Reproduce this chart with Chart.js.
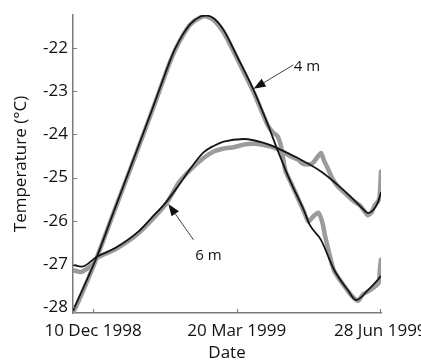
<!DOCTYPE html>
<html>
<head>
<meta charset="utf-8">
<script src="https://cdn.jsdelivr.net/npm/chart.js"></script>
<style>
  html, body { margin: 0; padding: 0; background: #fff; }
  #wrap { width: 421px; height: 363px; }
</style>
</head>
<body>
<div id="wrap"><canvas id="chart" width="421" height="363"></canvas></div>
<script>
// days counted from 10 Dec 1998
const xTickDays = [0, 100, 200];
const xTickLabels = ['10 Dec 1998', '20 Mar 1999', '28 Jun 1999'];
const yTicks = [-28, -27, -26, -25, -24, -23, -22];

// 4 m depth: smooth fit (black) and measured (grey)
const fit4Days  = [-14, 2.6, 14, 28, 41, 50.3, 53.8, 57.3, 63, 67.8, 74.8, 79, 83.9, 90.9, 100.4, 111.8, 121.4, 128.4, 137.8, 146.7, 151, 158.7, 167.8, 177.4, 183.2, 191.4, 198.4, 200.5];
const fit4Temps = [-28.08, -26.83, -25.82, -24.59, -23.44, -22.59, -22.28, -22.01, -21.67, -21.45, -21.28, -21.26, -21.32, -21.59, -22.21, -22.98, -23.75, -24.36, -25.12, -25.75, -26.1, -26.44, -27.13, -27.60, -27.83, -27.60, -27.36, -27.27];

const meas4Days  = [-14, -10, 2.6, 14, 28, 41, 50.3, 53.8, 57.3, 63, 67.8, 74.8, 79, 84, 91, 100.4, 111.8, 121.4, 125, 128.5, 131, 134, 137.8, 146.7, 150, 153.3, 156.8, 159.6, 161.7, 167.8, 177.4, 182, 184.5, 188, 192, 197, 199, 199.8, 200.5];
const meas4Temps = [-28.12, -27.85, -26.85, -25.84, -24.62, -23.47, -22.62, -22.31, -22.04, -21.69, -21.46, -21.30, -21.28, -21.36, -21.65, -22.26, -23.03, -23.78, -23.95, -24.05, -24.3, -24.85, -25.12, -25.78, -26.02, -25.90, -25.81, -26.03, -26.37, -27.15, -27.62, -27.80, -27.85, -27.70, -27.62, -27.50, -27.43, -27.10, -26.90];

// 6 m depth
const fit6Days  = [-14, -7.9, 2.6, 15.4, 31.5, 41.3, 50.3, 59.4, 67.8, 76.9, 83.9, 90.9, 104.9, 118.9, 130.8, 142.4, 158.7, 170.3, 181.8, 188.1, 191.4, 195.1, 198.4, 200.5];
const fit6Temps = [-27.02, -27.06, -26.83, -26.63, -26.25, -25.91, -25.59, -25.19, -24.79, -24.42, -24.27, -24.17, -24.11, -24.20, -24.36, -24.55, -24.86, -25.17, -25.52, -25.73, -25.82, -25.75, -25.57, -25.34];

const meas6Days  = [-14, -8, 0, 2.6, 15.4, 31.5, 50.3, 60, 67.8, 76.9, 84, 90.9, 98, 104.9, 112, 118.9, 125, 130.8, 137, 142.4, 146, 149.4, 152.9, 156.4, 158.7, 161, 163.3, 167, 170.3, 176, 181.8, 186, 189, 191.4, 194, 196, 198.4, 199.5, 200.5];
const meas6Temps = [-27.14, -27.18, -27.0, -26.86, -26.66, -26.29, -25.63, -25.1, -24.82, -24.55, -24.4, -24.33, -24.3, -24.24, -24.22, -24.25, -24.3, -24.38, -24.5, -24.58, -24.68, -24.70, -24.67, -24.52, -24.43, -24.62, -24.78, -25.05, -25.2, -25.38, -25.55, -25.65, -25.78, -25.87, -25.8, -25.65, -25.55, -25.45, -24.86];

// depth labels with arrows, in data units
const labels = [
  { text: '4 m', at: [139.8, -22.43], tail: [139.4, -22.40], tip: [111.8, -22.95] },
  { text: '6 m', at: [80.4, -26.80], tail: [69.9, -26.44], tip: [52.4, -25.61] }
];

function pts(xs, ys) { return xs.map((x, i) => ({ x: x, y: ys[i] })); }

const FONT = '"Open Sans", sans-serif';
const TEXT = '#111';
const AXIS = '#7a7a7a';

const innerTicks = {
  id: 'innerTicks',
  afterDraw(chart) {
    const ctx = chart.ctx, xs = chart.scales.x, ys = chart.scales.y;
    const a = chart.chartArea;
    ctx.save();
    ctx.strokeStyle = AXIS;
    ctx.lineWidth = 1;
    xTickDays.forEach(d => {
      const px = Math.round(xs.getPixelForValue(d)) + 0.5;
      ctx.beginPath(); ctx.moveTo(px, a.bottom); ctx.lineTo(px, a.bottom - 4); ctx.stroke();
    });
    yTicks.forEach(v => {
      const py = Math.round(ys.getPixelForValue(v)) + 0.5;
      ctx.beginPath(); ctx.moveTo(a.left, py); ctx.lineTo(a.left + 4, py); ctx.stroke();
    });
    // depth labels
    ctx.font = '15px ' + FONT;
    ctx.textBaseline = 'middle';
    labels.forEach(l => {
      const tx = xs.getPixelForValue(l.tail[0]), ty = ys.getPixelForValue(l.tail[1]);
      const hx = xs.getPixelForValue(l.tip[0]), hy = ys.getPixelForValue(l.tip[1]);
      const ang = Math.atan2(hy - ty, hx - tx);
      const len = 12, w = 4.5;
      const bx = hx - len * Math.cos(ang), by = hy - len * Math.sin(ang);
      ctx.strokeStyle = '#444';
      ctx.lineWidth = 1;
      ctx.beginPath(); ctx.moveTo(tx, ty); ctx.lineTo(bx, by); ctx.stroke();
      ctx.fillStyle = '#111';
      ctx.beginPath();
      ctx.moveTo(hx, hy);
      ctx.lineTo(bx + w * Math.sin(ang), by - w * Math.cos(ang));
      ctx.lineTo(bx - w * Math.sin(ang), by + w * Math.cos(ang));
      ctx.closePath(); ctx.fill();
      ctx.fillStyle = TEXT;
      ctx.textAlign = l.text === '4 m' ? 'left' : 'center';
      ctx.fillText(l.text, xs.getPixelForValue(l.at[0]), ys.getPixelForValue(l.at[1]));
    });
    ctx.restore();
  }
};

const fitStyle = { borderColor: '#151515', borderWidth: 1.8, pointRadius: 0, showLine: true, fill: false, cubicInterpolationMode: 'monotone' };
const measStyle = { borderColor: '#9b9b9b', borderWidth: 4.5, pointRadius: 0, showLine: true, fill: false, tension: 0.2, borderCapStyle: 'round', borderJoinStyle: 'round' };

new Chart(document.getElementById('chart').getContext('2d'), {
  type: 'scatter',
  data: {
    datasets: [
      Object.assign({ label: '4 m fit', data: pts(fit4Days, fit4Temps) }, fitStyle),
      Object.assign({ label: '6 m fit', data: pts(fit6Days, fit6Temps) }, fitStyle),
      Object.assign({ label: '4 m', data: pts(meas4Days, meas4Temps) }, measStyle),
      Object.assign({ label: '6 m', data: pts(meas6Days, meas6Temps) }, measStyle)
    ]
  },
  options: {
    responsive: false,
    animation: false,
    events: [],
    layout: { padding: { top: 15, right: 40, left: 0, bottom: 0 } },
    plugins: { legend: { display: false }, tooltip: { enabled: false } },
    scales: {
      x: {
        type: 'linear',
        min: -14,
        max: 200.5,
        afterBuildTicks: s => { s.ticks = xTickDays.map(v => ({ value: v })); },
        afterFit: s => { s.height = 50; s.paddingLeft = 0; s.paddingRight = 0; },
        grid: { display: false, drawTicks: false },
        border: { display: true, color: AXIS, width: 1.5 },
        ticks: {
          padding: 8,
          color: TEXT,
          font: { family: FONT, size: 17 },
          maxRotation: 0,
          autoSkip: false,
          callback: v => xTickLabels[xTickDays.indexOf(v)]
        },
        title: { display: true, text: 'Date', color: TEXT, font: { family: FONT, size: 17 }, padding: { top: 0, bottom: 0 } }
      },
      y: {
        min: -28.13,
        max: -21.245,
        afterBuildTicks: s => { s.ticks = yTicks.map(v => ({ value: v })); },
        afterFit: s => { s.width = 73; s.paddingTop = 0; s.paddingBottom = 0; },
        grid: { display: false, drawTicks: false },
        border: { display: true, color: AXIS, width: 1.5 },
        ticks: { padding: 5, color: TEXT, font: { family: FONT, size: 17 } },
        title: { display: true, text: 'Temperature (°C)', color: TEXT, font: { family: FONT, size: 17 }, padding: { top: 11, bottom: 0 } }
      }
    }
  },
  plugins: [innerTicks]
});
</script>
</body>
</html>
